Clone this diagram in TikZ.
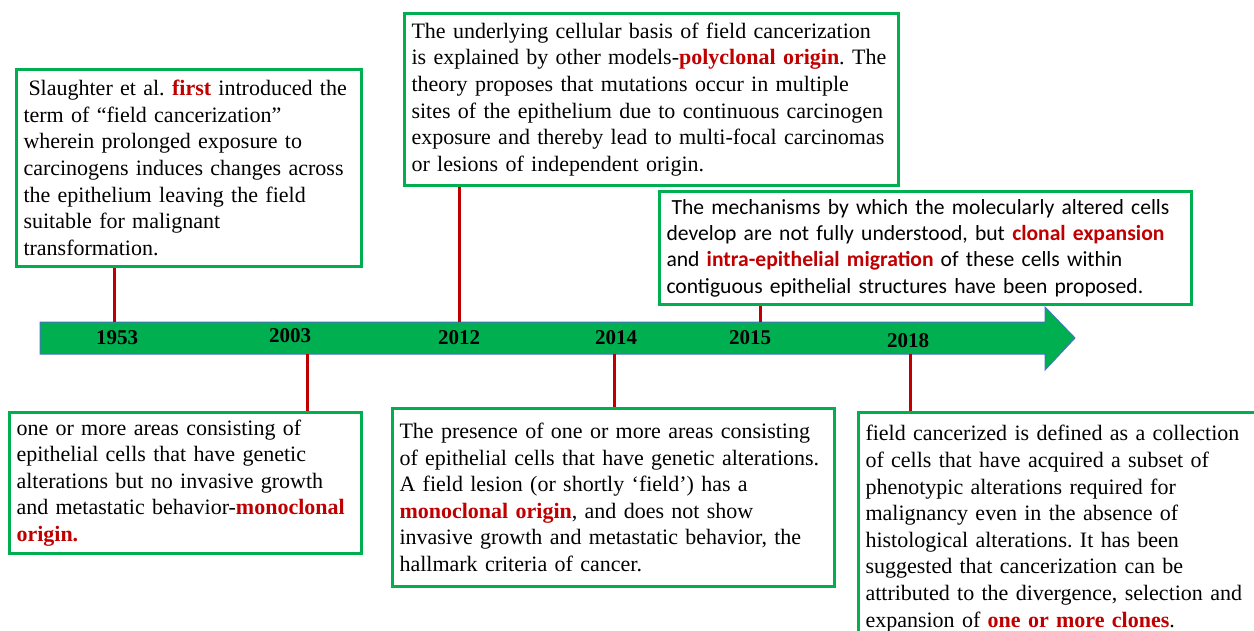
\documentclass[tikz,border=0pt]{standalone}
\usepackage{fontspec}
\setmainfont{Liberation Serif}
\newfontfamily\calibri{Carlito}
\definecolor{boxgreen}{RGB}{0,176,80}
\definecolor{arrowblue}{RGB}{68,114,196}
\definecolor{tickred}{RGB}{192,0,0}
\newcommand{\hl}[1]{\textcolor{tickred}{\textbf{#1}}}
\frenchspacing
\begin{document}
\begin{tikzpicture}[x=1pt,y=-1pt,
    card/.style={draw=boxgreen, line width=3pt, fill=white, anchor=north west,
        align=left, inner xsep=7pt, inner ysep=0pt,
        font=\fontsize{22}{26.6}\selectfont},
    tick/.style={draw=tickred, line width=3pt},
    year/.style={font=\fontsize{21}{24}\selectfont\bfseries}]
    \useasboundingbox (0,0) rectangle (1254,630);
    \clip (0,0) rectangle (1254,630);
    % timeline arrow
    \draw[fill=boxgreen, draw=arrowblue, line width=1pt] (40,322) -- (1045,322) -- (1045,307)
        -- (1075,338) -- (1045,370) -- (1045,354) -- (40,354) -- cycle;
    \node[year] (y1953) at (117,338) {1953};
    \node[year] (y2003) at (290,336) {2003};
    \node[year] (y2012) at (459,338) {2012};
    \node[year] (y2014) at (616,338) {2014};
    \node[year] (y2015) at (750,338) {2015};
    \node[year] (y2018) at (908,341) {2018};
    % boxes above the line
    \node[card, text width=331pt, minimum height=197pt] (slaughter) at (15,68)
        {\hspace{5pt}Slaughter et al. \hl{first} introduced the\\
         term of “field cancerization”\\
         wherein prolonged exposure to\\
         carcinogens induces changes across\\
         the epithelium leaving the field\\
         suitable for malignant\\
         transformation.};
    \node[card, text width=480pt, minimum height=172pt] (polyclonal) at (403,12)
        {The underlying cellular basis of field cancerization\\
         is explained by other models-\hl{polyclonal origin}. The\\
         theory proposes that mutations occur in multiple\\
         sites of the epithelium due to continuous carcinogen\\
         exposure and thereby lead to multi-focal carcinomas\\
         or lesions of independent origin.};
    \node[card, text width=518pt, minimum height=113pt,
        font=\calibri\fontsize{21.6}{26.3}\selectfont] (migration) at (658,190)
        {\hspace{5pt}The mechanisms by which the molecularly altered cells\\
         develop are not fully understood, but \hl{clonal expansion}\\
         and \hl{intra-epithelial migration} of these cells within\\
         contiguous epithelial structures have been proposed.};
    % boxes below the line
    \node[card, text width=338pt, minimum height=141pt] (monoA) at (8,411)
        {one or more areas consisting of\\
         epithelial cells that have genetic\\
         alterations but no invasive growth\\
         and metastatic behavior-\hl{monoclonal}\\
         \hl{origin.}};
    \node[card, text width=428pt, minimum height=178pt] (monoB) at (391,407)
        {The presence of one or more areas consisting\\
         of epithelial cells that have genetic alterations.\\
         A field lesion (or shortly ‘field’) has a\\
         \hl{monoclonal origin}, and does not show\\
         invasive growth and metastatic behavior, the\\
         hallmark criteria of cancer.};
    \node[card, text width=406pt, minimum height=232pt] (clones) at (857,411)
        {field cancerized is defined as a collection\\
         of cells that have acquired a subset of\\
         phenotypic alterations required for\\
         malignancy even in the absence of\\
         histological alterations. It has been\\
         suggested that cancerization can be\\
         attributed to the divergence, selection and\\
         expansion of \hl{one or more clones}.};
    % ticks
    \coordinate (t1953) at (114,322);
    \coordinate (t2012) at (459,322);
    \coordinate (t2015) at (760,322);
    \coordinate (t2003) at (307,354);
    \coordinate (t2014) at (614,354);
    \coordinate (t2018) at (910,354);
    \draw[tick] (t1953) -- (t1953 |- slaughter.south);
    \draw[tick] (t2012) -- (t2012 |- polyclonal.south);
    \draw[tick] (t2015) -- (t2015 |- migration.south);
    \draw[tick] (t2003) -- (t2003 |- monoA.north);
    \draw[tick] (t2014) -- (t2014 |- monoB.north);
    \draw[tick] (t2018) -- (t2018 |- clones.north);
\end{tikzpicture}
\end{document}
